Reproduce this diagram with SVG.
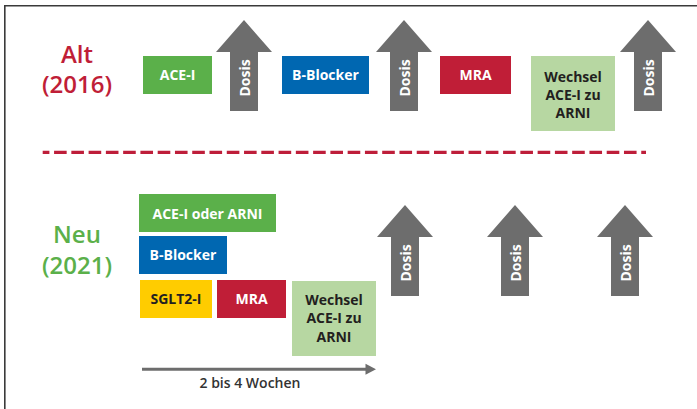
<svg xmlns="http://www.w3.org/2000/svg" width="697" height="409" viewBox="0 0 697 409">
  <defs>
    <style>
      .lbl { font-family: "Open Sans", "Liberation Sans", sans-serif; font-weight: 700; font-size: 14px; text-anchor: middle; }
      .w { fill: #ffffff; }
      .d { fill: #231f20; }
      .era { font-family: "Open Sans", "Liberation Sans", sans-serif; font-weight: 600; font-size: 24px; text-anchor: middle; }
      .arrow { fill: #6d6d6d; }
      .green { fill: #5bb04a; }
      .blue { fill: #0067b1; }
      .red { fill: #c01e37; }
      .yellow { fill: #ffcc00; }
      .pale { fill: #b7d7a2; }
    </style>
    <!-- upward "Dosis" arrow, origin at the tip -->
    <g id="dose">
      <polygon class="arrow" points="0,0 28,32 14,32 14,91 -14,91 -14,32 -28,32"/>
      <text class="lbl w" transform="translate(5.5,58) rotate(-90)">Dosis</text>
    </g>
  </defs>

  <!-- frame -->
  <path d="M4.8,409 V5.8 H697" fill="none" stroke="#3a3a3a" stroke-width="1.6"/>

  <!-- era labels -->
  <g id="alt">
    <text class="era" x="77" y="63" fill="#c01e37">Alt</text>
    <text class="era" x="77" y="93" fill="#c01e37">(2016)</text>
  </g>
  <g id="neu">
    <text class="era" x="77" y="243" fill="#5bb04a">Neu</text>
    <text class="era" x="77" y="274" fill="#5bb04a">(2021)</text>
  </g>

  <!-- separator -->
  <line x1="42.7" y1="152.3" x2="646" y2="152.3" stroke="#be1e3a" stroke-width="3.2" stroke-dasharray="12.6 4.67" stroke-dashoffset="5.9"/>

  <!-- 2016 sequence -->
  <g id="old-acei">
    <rect class="green" x="143" y="56" width="69" height="38"/>
    <text class="lbl w" x="177.5" y="80">ACE-I</text>
  </g>
  <g id="old-dose1"><use href="#dose" x="244" y="20"/></g>
  <g id="old-bblocker">
    <rect class="blue" x="282" y="56" width="87" height="38"/>
    <text class="lbl w" x="325.5" y="80">B-Blocker</text>
  </g>
  <g id="old-dose2"><use href="#dose" x="404" y="20"/></g>
  <g id="old-mra">
    <rect class="red" x="440" y="56" width="71" height="38"/>
    <text class="lbl w" x="475.5" y="80">MRA</text>
  </g>
  <g id="old-switch">
    <rect class="pale" x="531" y="56" width="84" height="75"/>
    <text class="lbl d" x="573" y="82">Wechsel</text>
    <text class="lbl d" x="573" y="100">ACE-I zu</text>
    <text class="lbl d" x="573" y="118">ARNI</text>
  </g>
  <g id="old-dose3"><use href="#dose" x="648" y="20"/></g>

  <!-- 2021 sequence -->
  <g id="new-acei-arni">
    <rect class="green" x="139" y="194" width="137" height="38"/>
    <text class="lbl w" x="207.5" y="218.5">ACE-I oder ARNI</text>
  </g>
  <g id="new-bblocker">
    <rect class="blue" x="139" y="236" width="88" height="38"/>
    <text class="lbl w" x="183" y="260">B-Blocker</text>
  </g>
  <g id="new-sglt2">
    <rect class="yellow" x="140" y="280" width="72" height="38"/>
    <text class="lbl d" x="176" y="304">SGLT2-I</text>
  </g>
  <g id="new-mra">
    <rect class="red" x="217" y="280" width="69" height="38"/>
    <text class="lbl w" x="251.5" y="304">MRA</text>
  </g>
  <g id="new-switch">
    <rect class="pale" x="292" y="281" width="84" height="75"/>
    <text class="lbl d" x="334" y="305">Wechsel</text>
    <text class="lbl d" x="334" y="323">ACE-I zu</text>
    <text class="lbl d" x="334" y="341.5">ARNI</text>
  </g>
  <g id="new-dose1"><use href="#dose" x="405" y="205"/></g>
  <g id="new-dose2"><use href="#dose" x="515" y="205"/></g>
  <g id="new-dose3"><use href="#dose" x="625" y="205"/></g>

  <!-- time axis -->
  <g id="connectors">
    <line x1="142" y1="369.3" x2="367" y2="369.3" stroke="#6d6d6d" stroke-width="3"/>
    <polygon class="arrow" points="376,369.3 365.5,363.8 365.5,374.8"/>
  </g>
  <text x="250" y="388" font-family="'Open Sans', 'Liberation Sans', sans-serif" font-weight="600" font-size="14" fill="#333333" text-anchor="middle">2 bis 4 Wochen</text>
</svg>
